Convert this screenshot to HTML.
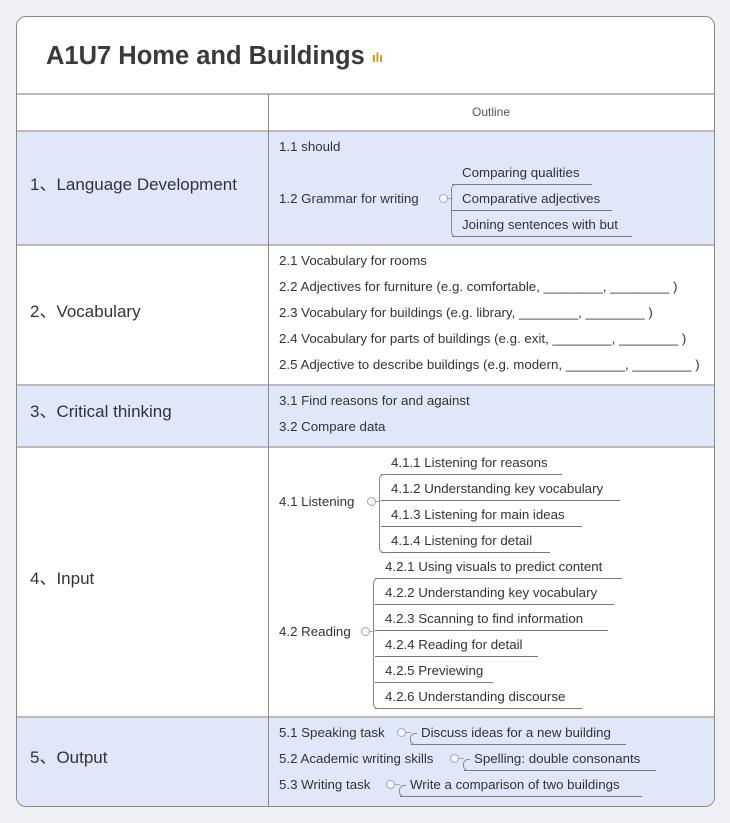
<!DOCTYPE html>
<html><head><meta charset="utf-8"><style>
body{margin:0;width:730px;height:823px;background:#eef0f4;position:relative;overflow:hidden;font-family:"Liberation Sans","Noto Sans CJK SC",sans-serif;color:#333}
#card{position:absolute;left:16px;top:16px;width:697px;height:789px;border:1px solid #888;border-radius:10px;background:#fff;overflow:hidden}
.band{position:absolute;left:0;width:697px;border-top:2px solid #bbb}
.blue{background:#dfe7f9}
.t{position:absolute;font-size:13.3px;white-space:nowrap;line-height:16px}
.lab{position:absolute;font-size:17px;white-space:nowrap;line-height:20px;left:13px}
.ul{position:absolute;height:0;border-bottom:1px solid #777}
.br{position:absolute;width:6px;border-left:1px solid #888;border-top:1px solid #888;border-bottom:1px solid #888;border-radius:5px 0 0 5px}
.c{position:absolute;width:7px;height:7px;border:1px solid #9ab;border-radius:50%;background:#f4f7fc}
.hl{position:absolute;height:1px;background:#9ab}
</style></head><body>
<div id="card">
<div style="position:absolute;left:29px;top:25px;font-size:25.5px;font-weight:bold;color:#3a3a3a">A1U7 Home and Buildings</div>
<div style="position:absolute;left:355px;top:33px;font-size:13px;font-weight:bold;color:#c90">ılı</div>
<div class="band" style="top:76px;height:35px"></div>
<div class="band blue" style="top:113px;height:112px"></div>
<div class="band" style="top:227px;height:138px"></div>
<div class="band blue" style="top:367px;height:60px"></div>
<div class="band" style="top:429px;height:268px"></div>
<div class="band blue" style="top:699px;height:100px"></div>
<div style="position:absolute;left:251px;top:77px;width:1px;height:720px;background:#888"></div>
<div style="position:absolute;left:455px;top:88px;font-size:12px;color:#555">Outline</div>
<div class="lab" style="top:158px">1、Language Development</div>
<div class="lab" style="top:285px">2、Vocabulary</div>
<div class="lab" style="top:385px">3、Critical thinking</div>
<div class="lab" style="top:552px">4、Input</div>
<div class="lab" style="top:731px">5、Output</div>
</div>
<script>
const card=document.getElementById('card');
const OX=17,OY=17;
// [text, x, centerY, underlineEnd or 0]
const items=[
["1.1 should",279,146,0],["1.2 Grammar for writing",279,198,0],
["Comparing qualities",462,172,592],["Comparative adjectives",462,198,612],["Joining sentences with but",462,224,632],
["2.1 Vocabulary for rooms",279,260,0],
["2.2 Adjectives for furniture (e.g. comfortable, ________, ________ )",279,286,0],
["2.3 Vocabulary for buildings (e.g. library, ________, ________ )",279,312,0],
["2.4 Vocabulary for parts of buildings (e.g. exit, ________, ________ )",279,338,0],
["2.5 Adjective to describe buildings (e.g. modern, ________, ________ )",279,364,0],
["3.1 Find reasons for and against",279,400,0],["3.2 Compare data",279,426,0],
["4.1 Listening",279,501,0],
["4.1.1 Listening for reasons",391,462,562],["4.1.2 Understanding key vocabulary",391,488,620],
["4.1.3 Listening for main ideas",391,514,582],["4.1.4 Listening for detail",391,540,550],
["4.2 Reading",279,631,0],
["4.2.1 Using visuals to predict content",385,566,622],["4.2.2 Understanding key vocabulary",385,592,614],
["4.2.3 Scanning to find information",385,618,608],["4.2.4 Reading for detail",385,644,538],
["4.2.5 Previewing",385,670,493],["4.2.6 Understanding discourse",385,696,582],
["5.1 Speaking task",279,732,0],["Discuss ideas for a new building",421,732,626],
["5.2 Academic writing skills",279,758,0],["Spelling: double consonants",474,758,656],
["5.3 Writing task",279,784,0],["Write a comparison of two buildings",410,784,642]
];
// brackets: [x, top, bottom], circles: [x,y]
const brackets=[[451,184,236],[379,474,552],[373,578,708],[410,733,744],[463,759,770],[399,785,796]];
const circles=[[443,198],[371,501],[365,631],[401,732],[454,758],[390,784]];
items.forEach(function(it){
  const d=document.createElement('div');
  d.className='t';d.textContent=it[0];
  d.style.left=(it[1]-OX)+'px';d.style.top=(it[2]-7-OY)+'px';
  
  
  card.appendChild(d);
  if(it[3]){
    const u=document.createElement('div');u.className='ul';
    u.style.left=(it[1]-10-OX)+'px';u.style.width=(it[3]-it[1]+10)+'px';u.style.top=(it[2]+12-OY)+'px';
    
    
    card.appendChild(u);
  }
});
brackets.forEach(function(b){
  const d=document.createElement('div');d.className='br';
  d.style.left=(b[0]-OX)+'px';d.style.top=(b[1]-OY)+'px';d.style.height=(b[2]-b[1]-1)+'px';
  
  
  card.appendChild(d);
});
circles.forEach(function(c){
  const h=document.createElement('div');h.className='hl';
  h.style.left=(c[0]+4-OX)+'px';h.style.width='6px';h.style.top=(c[1]-OY)+'px';
  
  
  card.appendChild(h);
  const d=document.createElement('div');d.className='c';
  d.style.left=(c[0]-4-OX)+'px';d.style.top=(c[1]-4-OY)+'px';
  
  
  card.appendChild(d);
});
</script>
</body></html>
